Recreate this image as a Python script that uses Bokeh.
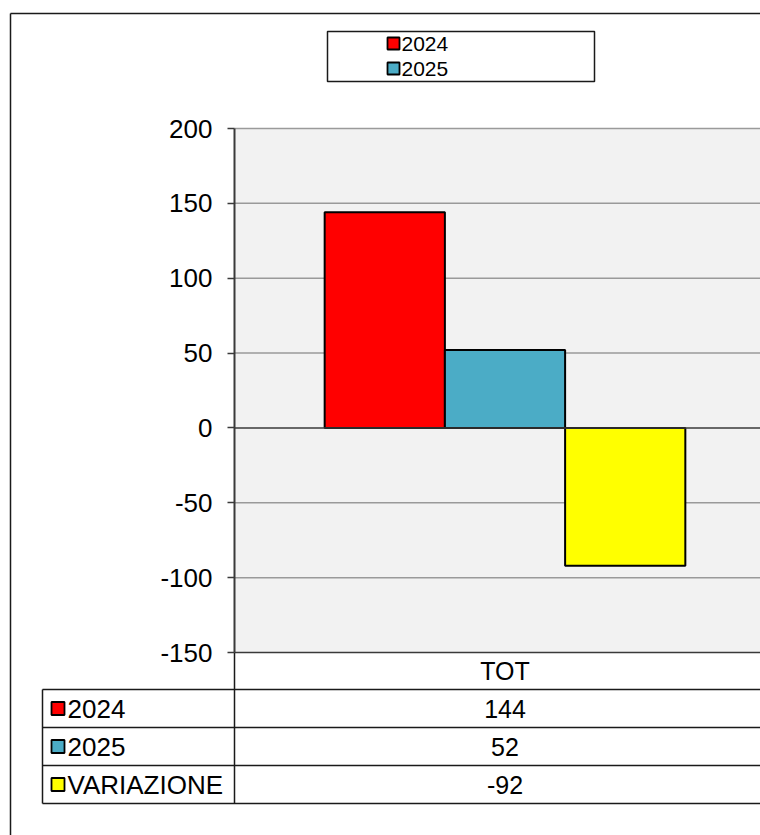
from bokeh.plotting import figure
from bokeh.models import Range1d, LinearAxis, FixedTicker, PrintfTickFormatter
from bokeh.core.properties import value
from bokeh.embed import file_html
from bokeh.resources import INLINE

# ---------------- data ----------------
categories = ["TOT"]
series_names = ["2024", "2025", "VARIAZIONE"]
values_2024 = [144]
values_2025 = [52]
values_variazione = [-92]
series_values = [values_2024, values_2025, values_variazione]
series_colors = ["#ff0000", "#4bacc6", "#ffff00"]
legend_series = ["2024", "2025"]
y_ticks = [-150, -100, -50, 0, 50, 100, 150, 200]

# ---------------- page geometry (page pixels) ----------------
FONT = "Liberation Sans"
W, H = 760, 835
PX0, PY0 = 0, 0                 # figure origin on the page
PX1, PY1 = PX0 + W, PY0 + H
PLOT_L, PLOT_R = 234, 775       # category band on the page
PLOT_T, PLOT_B = 128, 652       # value axis span on the page

n_cat = len(categories)
xs = (PLOT_R - PLOT_L) / n_cat
x_start = -0.5 - (PLOT_L - PX0) / xs
x_end = -0.5 + (PX1 - PLOT_L) / xs
ymin, ymax = y_ticks[0], y_ticks[-1]
ys = (PLOT_B - PLOT_T) / (ymax - ymin)
y_end = ymax + (PLOT_T - PY0) / ys
y_start = ymin - (PY1 - PLOT_B) / ys

p = figure(width=W, height=H, output_backend="svg", toolbar_location=None,
           x_range=Range1d(x_start, x_end), y_range=Range1d(y_start, y_end),
           x_axis_type=None, y_axis_type=None, min_border=0,
           background_fill_color="white", border_fill_color="white",
           outline_line_color=None)
p.extra_x_ranges = {"px": Range1d(PX0, PX1)}
p.extra_y_ranges = {"py": Range1d(PY1, PY0)}

# outer chart border
p.segment(x0=[10, 10], y0=[13, 13], x1=[10, PX1], y1=[PY1, 13],
          line_color="#1a1a1a", line_width=1.5, x_range_name="px", y_range_name="py")

# plot area background
p.quad(left=[-0.5], right=[n_cat - 0.5], bottom=[ymin], top=[ymax],
       fill_color="#f2f2f2", line_color=None)

# gridlines
grid_ticks = [t for t in y_ticks if t not in (0, ymin)]
p.segment(x0=[-0.5] * len(grid_ticks), x1=[n_cat - 0.5] * len(grid_ticks),
          y0=grid_ticks, y1=grid_ticks, line_color="#9a9a9a", line_width=1.5)

# bars
n = len(series_names)
bw = 1.0 / (n + 1.5)
for k, (name, vals, col) in enumerate(zip(series_names, series_values, series_colors)):
    off = (k - (n - 1) / 2) * bw
    p.vbar(x=[i + off for i in range(n_cat)], top=vals, bottom=0, width=bw,
           fill_color=col, line_color="black", line_width=2)

# zero line and bottom line
p.segment(x0=[-0.5, -0.5], x1=[n_cat - 0.5, n_cat - 0.5], y0=[0, ymin], y1=[0, ymin],
          line_color="#3a3a3a", line_width=1.5)

# value axis
yaxis = LinearAxis(fixed_location=-0.5, bounds=(ymin, ymax), ticker=FixedTicker(ticks=y_ticks),
                   formatter=PrintfTickFormatter(format="%d"))
yaxis.axis_line_color = "#3a3a3a"
yaxis.axis_line_width = 2
yaxis.major_tick_line_color = "#3a3a3a"
yaxis.major_tick_line_width = 1.5
yaxis.major_tick_out = 7
yaxis.major_tick_in = 0
yaxis.minor_tick_out = 0
yaxis.minor_tick_in = 0
yaxis.major_label_text_font = FONT
yaxis.major_label_text_font_size = "26px"
yaxis.major_label_text_color = "black"
yaxis.major_label_standoff = 15
p.add_layout(yaxis, "left")

# ---------------- data table ----------------
row_edges = [652, 689, 727, 765, 803]
TBL_L = 42
h_y = row_edges[1:]
p.segment(x0=[TBL_L] * len(h_y), x1=[PX1] * len(h_y), y0=h_y, y1=h_y,
          line_color="#1a1a1a", line_width=1.5, x_range_name="px", y_range_name="py")
p.segment(x0=[PLOT_L, TBL_L], x1=[PLOT_L, TBL_L], y0=[row_edges[0], row_edges[1]],
          y1=[row_edges[-1], row_edges[-1]],
          line_color="#1a1a1a", line_width=1.5, x_range_name="px", y_range_name="py")

row_cy = [(a + b) / 2 for a, b in zip(row_edges[:-1], row_edges[1:])]
# category header
p.text(x=list(range(n_cat)), y=[row_cy[0]] * n_cat, text=categories,
       text_font=value(FONT), text_font_size="25px", text_color="black",
       text_align="center", text_baseline="middle", y_range_name="py")
for k, (name, vals, col) in enumerate(zip(series_names, series_values, series_colors)):
    cy = row_cy[k + 1]
    p.scatter(x=[57.5], y=[cy], marker="square", size=13, fill_color=col,
              line_color="black", line_width=1.8, x_range_name="px", y_range_name="py")
    p.text(x=[67], y=[cy], text=[name], text_font=value(FONT), text_font_size="26px",
           text_color="black", text_align="left", text_baseline="middle",
           x_range_name="px", y_range_name="py")
    p.text(x=list(range(n_cat)), y=[cy] * n_cat, text=[str(v) for v in vals],
           text_font=value(FONT), text_font_size="25px", text_color="black",
           text_align="center", text_baseline="middle", y_range_name="py")

# ---------------- legend ----------------
p.quad(left=[327], right=[594], top=[31], bottom=[81], fill_color="white",
       line_color="#1a1a1a", line_width=1.5, x_range_name="px", y_range_name="py")
leg_y = [43, 68]
for name, ly in zip(legend_series, leg_y):
    col = series_colors[series_names.index(name)]
    p.scatter(x=[393], y=[ly], marker="square", size=12, fill_color=col,
              line_color="black", line_width=1.8, x_range_name="px", y_range_name="py")
    p.text(x=[401], y=[ly], text=[name], text_font=value(FONT), text_font_size="21px",
           text_color="black", text_align="left", text_baseline="middle",
           x_range_name="px", y_range_name="py")

open("out.html", "w").write(file_html(p, INLINE))
